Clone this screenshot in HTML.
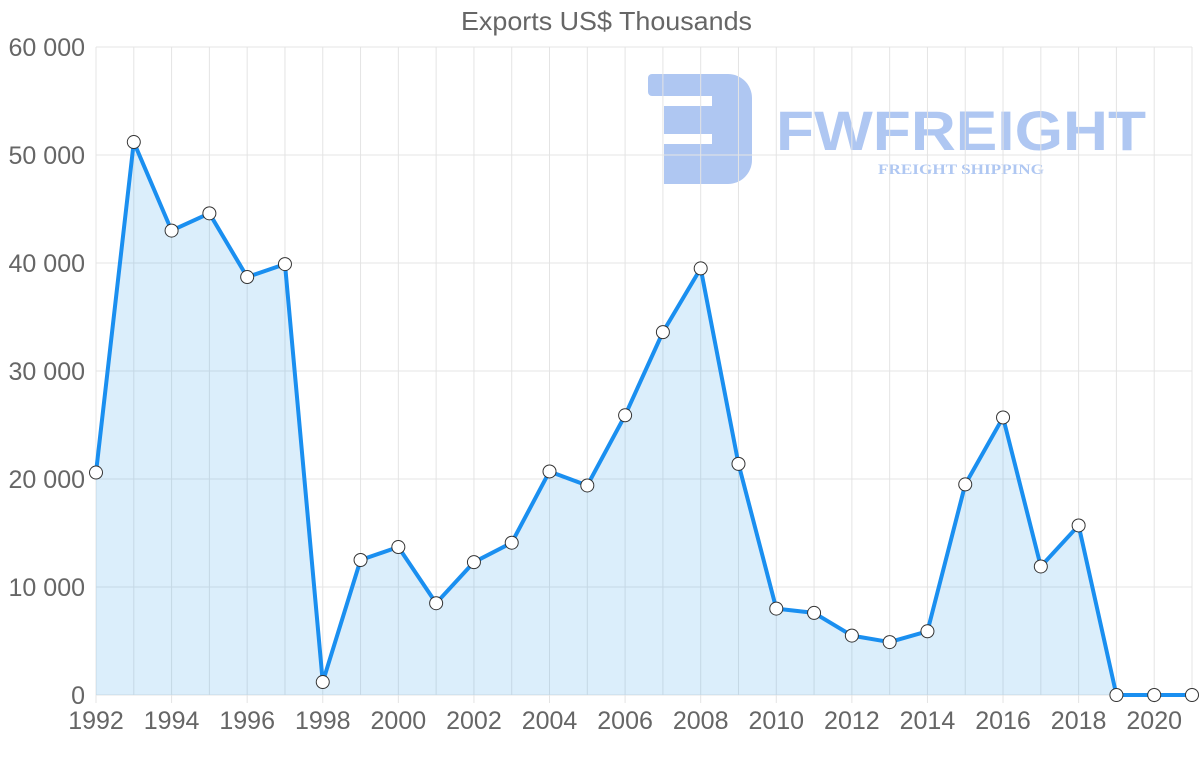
<!DOCTYPE html>
<html><head><meta charset="utf-8"><style>
body{margin:0;background:#fff;width:1200px;height:763px;overflow:hidden;font-family:"Liberation Sans",sans-serif}
svg text{font-family:"Liberation Sans",sans-serif}
</style></head><body>
<svg id="c" width="1200" height="763">
<g opacity="0.55">
<rect x="648" y="74" width="72" height="22" rx="4" fill="#6f9be8"/>
<rect x="664" y="106" width="56" height="28" fill="#6f9be8"/>
<rect x="664" y="144" width="56" height="40" fill="#6f9be8"/>
<path d="M712 74 h16 a24 24 0 0 1 24 24 v62 a24 24 0 0 1 -24 24 h-16 z" fill="#6f9be8"/>
<text x="776" y="150" font-size="56" font-weight="bold" fill="#6f9be8" textLength="370" lengthAdjust="spacingAndGlyphs">FWFREIGHT</text>
<text x="878" y="174" font-size="15" font-weight="bold" fill="#6f9be8" textLength="166" lengthAdjust="spacingAndGlyphs" style="font-family:'Liberation Serif',serif">FREIGHT SHIPPING</text>
</g>
<text x="461" y="30" font-size="26" fill="#666" textLength="291" lengthAdjust="spacingAndGlyphs">Exports US$ Thousands</text>
<g id="grid"></g><g id="series"></g>
</svg>
<script>
const years=[1992,1993,1994,1995,1996,1997,1998,1999,2000,2001,2002,2003,2004,2005,2006,2007,2008,2009,2010,2011,2012,2013,2014,2015,2016,2017,2018,2019,2020,2021];
const exportsVals=[20600,51200,43000,44600,38700,39900,1200,12500,13700,8500,12300,14100,20700,19400,25900,33600,39500,21400,8000,7600,5500,4900,5900,19500,25700,11900,15700,0,0,0];
const yTicks=[0,10000,20000,30000,40000,50000,60000];
const yTickLabels=["0","10 000","20 000","30 000","40 000","50 000","60 000"];
const NS="http://www.w3.org/2000/svg";
const x0=96,x1=1192,y0=695,y1=47;
const X=i=>x0+(x1-x0)*i/(years.length-1);
const Y=v=>y0-(y0-y1)*v/60000;
function mk(t,a,p){const e=document.createElementNS(NS,t);for(const k in a)e.setAttribute(k,a[k]);p.appendChild(e);return e;}
const g=document.getElementById('grid'),s=document.getElementById('series');
yTicks.forEach((v,i)=>{
 const l=mk('line',{x1:x0,x2:x1,y1:Y(v),y2:Y(v),stroke:'#e4e4e4','stroke-width':1},g);
 
 
 const t=mk('text',{x:85,y:Y(v)+9,'text-anchor':'end','font-size':25,fill:'#666'},g);t.textContent=yTickLabels[i];
 
 
});
years.forEach((yr,i)=>{
 const l=mk('line',{x1:X(i),x2:X(i),y1:y1,y2:y0+(i%2==0?8:0),stroke:'#e4e4e4','stroke-width':1},g);
 
 
 if(i%2==0){const t=mk('text',{x:X(i),y:729,'text-anchor':'middle','font-size':25,fill:'#666'},g);t.textContent=yr;
 
 }
});
let d=exportsVals.map((v,i)=>(i?'L':'M')+X(i)+' '+Y(v)).join(' ');
const a=mk('path',{d:d+` L${X(years.length-1)} ${y0} L${x0} ${y0} Z`,fill:'rgba(54,162,235,0.18)'},s);


const ln=mk('path',{d:d,fill:'none',stroke:'#1a8ff0','stroke-width':4,'stroke-linejoin':'round'},s);


exportsVals.forEach((v,i)=>{
 const c=mk('circle',{cx:X(i),cy:Y(v),r:6.5,fill:'#fff',stroke:'#333','stroke-width':1},s);
 
 
});
</script>
</body></html>
